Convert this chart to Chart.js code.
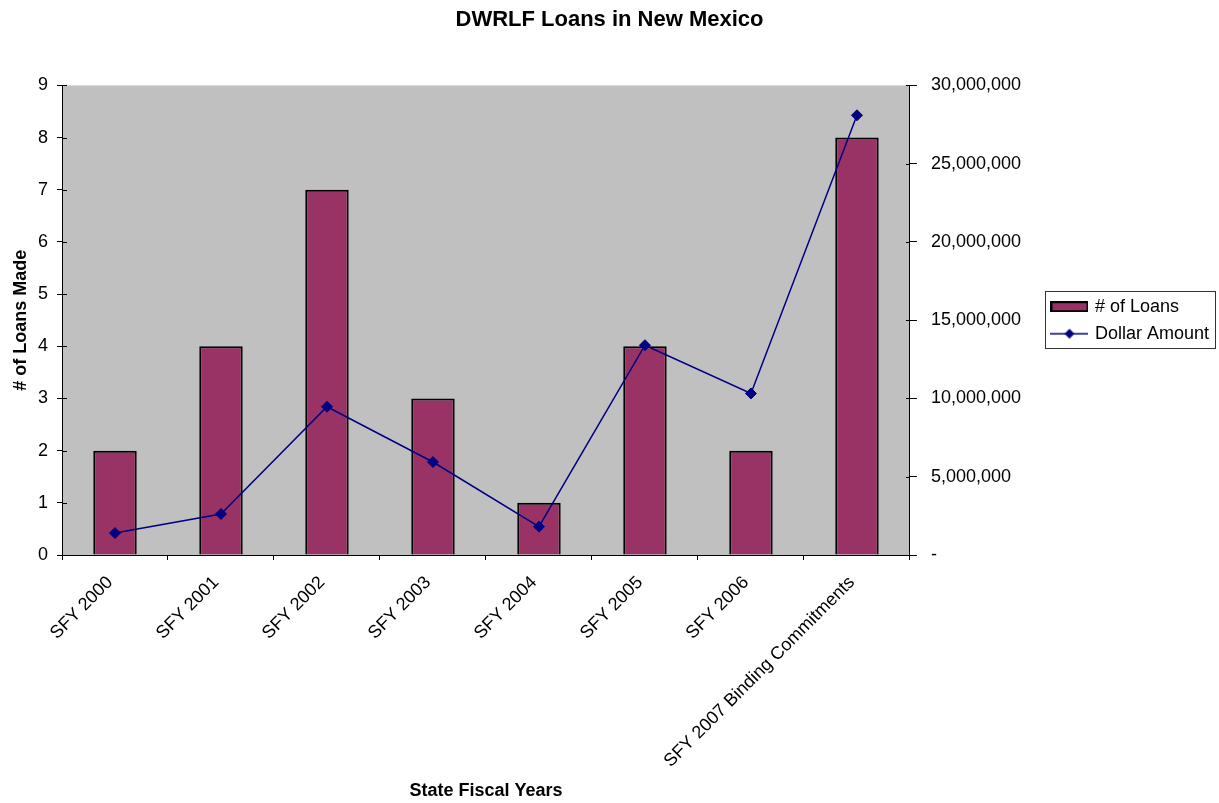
<!DOCTYPE html>
<html>
<head>
<meta charset="utf-8">
<script src="https://cdn.jsdelivr.net/npm/chart.js@4/dist/chart.umd.min.js"></script>
<style>
  html, body { margin: 0; padding: 0; background: #ffffff; }
  #wrap { width: 1219px; height: 803px; position: relative; }
</style>
</head>
<body>
<div id="wrap"><canvas id="c" width="1219" height="803"></canvas></div>
<script>
const chartTitle = 'DWRLF Loans in New Mexico';
const categories = ['SFY 2000', 'SFY 2001', 'SFY 2002', 'SFY 2003', 'SFY 2004', 'SFY 2005', 'SFY 2006', 'SFY 2007 Binding Commitments'];
const loanCounts = [2, 4, 7, 3, 1, 4, 2, 8];
const dollarAmounts = [1400000, 2620000, 9470000, 5940000, 1810000, 13400000, 10320000, 28090000];
const seriesNames = ['# of Loans', 'Dollar Amount'];
const leftAxisTitle = '# of Loans Made';
const xAxisTitle = 'State Fiscal Years';

const FONT = '"Liberation Sans", Arial, sans-serif';
const BAR_COLOR = '#993366';
const LINE_COLOR = '#000080';

function makeSwatch() {
  const c = document.createElement('canvas');
  c.width = 38; c.height = 11;
  const g = c.getContext('2d');
  g.fillStyle = BAR_COLOR;
  g.fillRect(1, 1, 36, 9);
  g.strokeStyle = '#000';
  g.lineWidth = 2;
  g.strokeRect(1, 1, 36, 9);
  return c;
}
function makeLineSwatch() {
  const c = document.createElement('canvas');
  c.width = 38; c.height = 12;
  const g = c.getContext('2d');
  g.strokeStyle = LINE_COLOR;
  g.lineWidth = 1.5;
  g.beginPath(); g.moveTo(0, 6); g.lineTo(38, 6); g.stroke();
  g.fillStyle = LINE_COLOR;
  g.beginPath(); g.moveTo(19, 1); g.lineTo(24, 6); g.lineTo(19, 11); g.lineTo(14, 6); g.closePath(); g.fill();
  return c;
}
const swatchBar = makeSwatch();
const swatchLine = makeLineSwatch();

const bgPlugin = {
  id: 'plotBg',
  beforeDraw(chart) {
    const {ctx, chartArea: a} = chart;
    ctx.save();
    ctx.fillStyle = '#C0C0C0';
    ctx.fillRect(a.left, a.top, a.right - a.left, a.bottom - a.top);
    ctx.restore();
  },
  afterDraw(chart) {
    const {ctx, chartArea: a} = chart;
    ctx.save();
    ctx.strokeStyle = '#000';
    ctx.lineWidth = 1;
    const y = chart.scales.y, y1 = chart.scales.y1;
    y.ticks.forEach((t) => {
      const p = Math.round(y.getPixelForValue(t.value)) + 0.5;
      ctx.beginPath(); ctx.moveTo(a.left, p); ctx.lineTo(a.left + 5, p); ctx.stroke();
    });
    y1.ticks.forEach((t) => {
      const p = Math.round(y1.getPixelForValue(t.value)) + 0.5;
      ctx.beginPath(); ctx.moveTo(a.right - 4, p); ctx.lineTo(a.right, p); ctx.stroke();
    });
    const lg = chart.legend;
    if (lg && lg.legendHitBoxes && lg.legendHitBoxes.length) {
      const hb = lg.legendHitBoxes;
      const top = hb[0].top - 7;
      const bottom = hb[hb.length - 1].top + hb[hb.length - 1].height + 5;
      let right = 0;
      hb.forEach(h => { right = Math.max(right, h.left + h.width); });
      const left = hb[0].left - 8;
      ctx.strokeStyle = '#333';
      ctx.strokeRect(Math.round(left) + 0.5, Math.round(top) + 0.5, Math.round(right + 6 - left), Math.round(bottom - top));
    }
    ctx.restore();
  }
};

new Chart(document.getElementById('c'), {
  type: 'bar',
  data: {
    labels: categories,
    datasets: [
      {
        type: 'bar',
        label: seriesNames[0],
        data: loanCounts,
        yAxisID: 'y',
        backgroundColor: BAR_COLOR,
        borderColor: '#000',
        borderWidth: 2,
        barPercentage: 0.41,
        categoryPercentage: 1.0,
        order: 2
      },
      {
        type: 'line',
        label: seriesNames[1],
        data: dollarAmounts,
        yAxisID: 'y1',
        borderColor: LINE_COLOR,
        backgroundColor: LINE_COLOR,
        borderWidth: 1.5,
        pointStyle: 'rectRot',
        pointRadius: 5.5,
        pointBackgroundColor: LINE_COLOR,
        pointBorderColor: LINE_COLOR,
        pointBorderWidth: 1,
        tension: 0,
        fill: false,
        order: 1
      }
    ]
  },
  options: {
    responsive: false,
    animation: false,
    layout: { padding: { left: 0, right: 0, top: 0, bottom: 0 } },
    plugins: {
      tooltip: { enabled: false },
      title: {
        display: true,
        text: chartTitle,
        color: '#000',
        font: { family: FONT, size: 22, weight: 'bold' },
        padding: { top: 7, bottom: 52 }
      },
      legend: {
        display: true,
        position: 'right',
        align: 'center',
        fullSize: false,
        labels: {
          color: '#000',
          font: { family: FONT, size: 18 },
          usePointStyle: true,
          pointStyleWidth: 33,
          boxHeight: 12,
          padding: 9,
          generateLabels() {
            return [
              { text: seriesNames[0], pointStyle: swatchBar, fillStyle: BAR_COLOR, strokeStyle: '#000', lineWidth: 0, hidden: false, datasetIndex: 0, fontColor: '#000' },
              { text: seriesNames[1], pointStyle: swatchLine, fillStyle: LINE_COLOR, strokeStyle: LINE_COLOR, lineWidth: 0, hidden: false, datasetIndex: 1, fontColor: '#000' }
            ];
          }
        }
      }
    },
    scales: {
      x: {
        type: 'category',
        offset: true,
        grid: { display: true, offset: true, drawOnChartArea: false, drawTicks: true, tickLength: 5, color: '#000' },
        border: { display: true, color: '#000', width: 1 },
        ticks: {
          color: '#000',
          font: { family: FONT, size: 18 },
          maxRotation: 45,
          minRotation: 45,
          autoSkip: false,
          padding: 12,
          labelOffset: -5
        },
        title: {
          display: true,
          text: xAxisTitle,
          color: '#000',
          font: { family: FONT, size: 18, weight: 'bold' },
          padding: { top: 4, bottom: 1 }
        },
        afterFit(scale) { scale.height = 248; }
      },
      y: {
        type: 'linear',
        position: 'left',
        min: 0,
        max: 9,
        grid: { display: true, drawOnChartArea: false, drawTicks: true, tickLength: 5, color: '#000' },
        border: { display: true, color: '#000', width: 1 },
        ticks: {
          stepSize: 1,
          color: '#000',
          font: { family: FONT, size: 18 },
          padding: 9
        },
        title: {
          display: true,
          text: leftAxisTitle,
          color: '#000',
          font: { family: FONT, size: 18, weight: 'bold' },
          padding: { top: 10, bottom: 4 }
        },
        afterFit(scale) { scale.width = 62; }
      },
      y1: {
        type: 'linear',
        position: 'right',
        min: 0,
        max: 30000000,
        grid: { display: true, drawOnChartArea: false, drawTicks: true, tickLength: 7, color: '#000' },
        border: { display: true, color: '#000', width: 1 },
        ticks: {
          stepSize: 5000000,
          color: '#000',
          font: { family: FONT, size: 18 },
          padding: 14,
          callback(v) { return v === 0 ? '-' : Number(v).toLocaleString('en-US'); }
        },
        afterFit(scale) { scale.width = 134; }
      }
    }
  },
  plugins: [bgPlugin]
});
</script>
</body>
</html>
